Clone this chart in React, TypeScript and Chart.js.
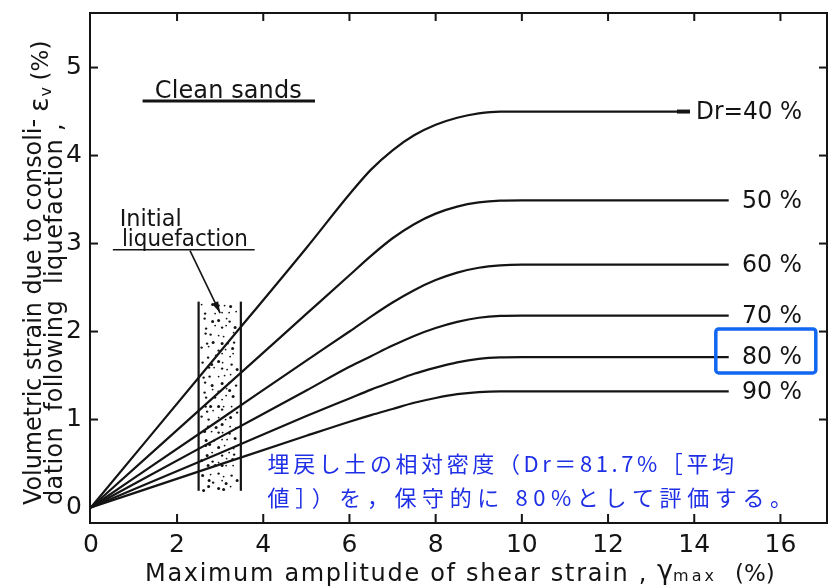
import React, { useEffect, useRef } from 'react';
import { Chart, registerables } from 'chart.js';

Chart.register(...registerables);

// ---- data ----
const strain40 = [0, 3, 5, 6, 6.5, 7, 7.5, 8, 8.5, 9, 9.5, 10, 12, 13.9];
const strainOther = [0, 3, 5, 6, 6.5, 7, 7.5, 8, 8.5, 9, 9.5, 10, 12, 14.8];
const ev40 = [0, 1.77, 2.95, 3.56, 3.84, 4.06, 4.23, 4.35, 4.43, 4.48, 4.5, 4.5, 4.5, 4.5];
const ev50 = [0, 1.32, 2.2, 2.64, 2.86, 3.06, 3.22, 3.34, 3.42, 3.467, 3.487, 3.49, 3.49, 3.49];
const ev60 = [0, 1.0, 1.67, 2.0, 2.17, 2.33, 2.47, 2.585, 2.67, 2.725, 2.752, 2.76, 2.76, 2.76];
const ev70 = [0, 0.8, 1.33, 1.6, 1.72, 1.84, 1.95, 2.04, 2.11, 2.157, 2.177, 2.18, 2.18, 2.18];
const ev80 = [0, 0.62, 1.04, 1.24, 1.34, 1.43, 1.52, 1.59, 1.65, 1.69, 1.707, 1.71, 1.71, 1.71];
const ev90 = [0, 0.49, 0.815, 0.975, 1.05, 1.12, 1.19, 1.245, 1.288, 1.312, 1.32, 1.32, 1.32, 1.32];
const densityLabels = ['Dr=40 %', '50 %', '60 %', '70 %', '80 %', '90 %'];
const xTicks = [0, 2, 4, 6, 8, 10, 12, 14, 16];
const yTicks = [0, 1, 2, 3, 4, 5];
const xTitle = 'Maximum amplitude of shear strain ,';
const yTitle1 = 'Volumetric strain due to consoli-';
const yTitle2 = 'dation  following  liquefaction ,';
const noteLine1 = '埋戻し土の相対密度（Dr＝81.7%［平均';
const noteLine2 = '値］）を，保守的に 80%として評価する。';

const seriesX = [strain40, strainOther, strainOther, strainOther, strainOther, strainOther];
const seriesY = [ev40, ev50, ev60, ev70, ev80, ev90];

const FONT = '"DejaVu Sans"';
const INK = '#141414';

function fitText(ctx: CanvasRenderingContext2D, text: string, x: number, y: number, width: number) {
  (ctx as any).letterSpacing = '0px';
  const w0 = ctx.measureText(text).width;
  const n = Array.from(text).length;
  if (w0 < width && n > 1) {
    (ctx as any).letterSpacing = ((width - w0) / n).toFixed(2) + 'px';
    ctx.fillText(text, x, y);
  } else {
    ctx.fillText(text, x, y, width);
  }
  (ctx as any).letterSpacing = '0px';
}

const annotations = {
  id: 'annotations',
  afterDatasetsDraw(chart: any) {
    const { ctx, chartArea: a, scales } = chart;
    const xs = scales.x;
    const ys = scales.y;
    const X = (v: number) => xs.getPixelForValue(v);
    const Y = (v: number) => ys.getPixelForValue(v);
    const line = (x1: number, y1: number, x2: number, y2: number, w = 2) => {
      ctx.lineWidth = w;
      ctx.beginPath();
      ctx.moveTo(x1, y1);
      ctx.lineTo(x2, y2);
      ctx.stroke();
    };
    ctx.save();
    ctx.strokeStyle = INK;
    ctx.fillStyle = INK;
    ctx.lineCap = 'butt';

    // frame
    ctx.lineWidth = 2;
    ctx.strokeRect(a.left, a.top, a.right - a.left, a.bottom - a.top);
    // inward ticks
    xTicks.forEach((v) => {
      if (v === 0) return;
      const px = X(v);
      line(px, a.bottom, px, a.bottom - 9, 2);
      line(px, a.top, px, a.top + 8, 2);
    });
    yTicks.forEach((v) => {
      if (v === 0) return;
      const py = Y(v);
      line(a.left, py, a.left + 8, py, 2);
      line(a.right, py, a.right - 8, py, 2);
    });

    // thick end of the 40 % curve
    const last40 = strain40.length - 1;
    line(X(strain40[last40] - 0.3), Y(ev40[last40]), X(strain40[last40]), Y(ev40[last40]), 4);

    // density labels, right aligned
    ctx.font = `24px ${FONT}`;
    ctx.textAlign = 'right';
    ctx.textBaseline = 'middle';
    densityLabels.forEach((lab, i) => {
      const yv = seriesY[i][seriesY[i].length - 1];
      ctx.fillText(lab, X(16.5), Y(yv) + 1, i === 0 ? 106 : 60);
    });

    // Clean sands
    ctx.textAlign = 'left';
    ctx.textBaseline = 'alphabetic';
    ctx.font = `24px ${FONT}`;
    fitText(ctx, 'Clean sands', X(1.485), Y(4.65), 147);
    line(X(1.2), Y(4.62), X(5.2), Y(4.62), 3);

    // Initial liquefaction
    ctx.font = `23px ${FONT}`;
    fitText(ctx, 'Initial', X(0.67), Y(3.2), 62);
    fitText(ctx, 'liquefaction', X(0.72), Y(2.975), 126);
    line(X(0.51), Y(2.93), X(3.8), Y(2.93), 1.6);
    // arrow
    const ax1 = X(2.3), ay1 = Y(2.92), ax2 = X(3.0), ay2 = Y(2.21);
    line(ax1, ay1, ax2, ay2, 1.6);
    const ang = Math.atan2(ay2 - ay1, ax2 - ax1);
    ctx.beginPath();
    ctx.moveTo(ax2, ay2);
    ctx.lineTo(ax2 - 12 * Math.cos(ang - 0.28), ay2 - 12 * Math.sin(ang - 0.28));
    ctx.lineTo(ax2 - 12 * Math.cos(ang + 0.28), ay2 - 12 * Math.sin(ang + 0.28));
    ctx.closePath();
    ctx.fill();

    // stippled band
    const bx1 = X(2.5), bx2 = X(3.48), by1 = Y(2.34), by2 = Y(0.19);
    line(bx1, by1, bx1, by2, 2.2);
    line(bx2, by1, bx2, by2, 2.2);
    let r = 0;
    for (let py = by1 + 5; py < by2 - 2; py += 7) {
      let c = 0;
      const off = r % 2 === 0 ? 0 : 3.5;
      for (let px = bx1 + 5 + off; px < bx2 - 3; px += 7) {
        const h = ((r * 7919 + c * 104729 + r * c * 31) % 997 + 997) % 997;
        const dx = (h % 5) - 2;
        const dy = ((h >> 3) % 5) - 2;
        const rad = 0.9 + (h % 3) * 0.3;
        ctx.beginPath();
        ctx.arc(px + dx, py + dy, rad, 0, Math.PI * 2);
        ctx.fill();
        c++;
      }
      r++;
    }

    // blue highlight box around 80 %
    ctx.strokeStyle = '#1166f2';
    ctx.lineWidth = 3.5;
    const rx1 = X(14.5), rx2 = X(16.82), ry1 = Y(2.03), ry2 = Y(1.53);
    ctx.beginPath();
    (ctx as any).roundRect(rx1, ry1, rx2 - rx1, ry2 - ry1, 3);
    ctx.stroke();

    // blue Japanese note
    ctx.fillStyle = '#1f2fe6';
    ctx.font = '22px "Noto Sans CJK JP"';
    ctx.textBaseline = 'middle';
    fitText(ctx, noteLine1, X(4.1), Y(0.5), 470);
    fitText(ctx, noteLine2, X(4.1), Y(0.115), 530);

    ctx.restore();

    // axis titles (outside the plot)
    ctx.save();
    ctx.fillStyle = INK;
    ctx.textAlign = 'left';
    ctx.textBaseline = 'alphabetic';
    ctx.font = `24px ${FONT}`;
    fitText(ctx, xTitle, 145, 581, 503);
    ctx.font = `27px ${FONT}`;
    ctx.fillText('γ', 657, 579);
    ctx.font = `16px ${FONT}`;
    fitText(ctx, 'max', 673, 581, 44);
    ctx.font = `23px ${FONT}`;
    ctx.fillText('(%)', 735, 581, 55);

    // y title, rotated
    ctx.save();
    ctx.translate(41, 505);
    ctx.rotate(-Math.PI / 2);
    ctx.font = `24px ${FONT}`;
    fitText(ctx, yTitle1, 0, 0, 386);
    ctx.restore();
    ctx.save();
    ctx.translate(62, 505);
    ctx.rotate(-Math.PI / 2);
    ctx.font = `24px ${FONT}`;
    fitText(ctx, yTitle2, 0, 0, 382);
    ctx.restore();
    ctx.save();
    ctx.translate(48, 112);
    ctx.rotate(-Math.PI / 2);
    ctx.font = `27px ${FONT}`;
    ctx.fillText('ε', 0, 0);
    const we = ctx.measureText('ε').width;
    ctx.font = `16px ${FONT}`;
    ctx.fillText('v', we + 1, 3);
    ctx.font = `23px ${FONT}`;
    ctx.fillText('(%)', we + 17, 0, 44);
    ctx.restore();
    ctx.restore();
  },
};

export default function App() {
  const ref = useRef<HTMLCanvasElement>(null);
  useEffect(() => {
    const canvas = ref.current;
    if (!canvas) return;
    const chart = new Chart(canvas, {
      type: 'line',
      data: {
        datasets: seriesY.map((ys, i) => ({
          label: densityLabels[i],
          data: ys.map((v, j) => ({ x: seriesX[i][j], y: v })),
          borderColor: INK,
          borderWidth: 2.2,
          pointRadius: 0,
          fill: false,
          cubicInterpolationMode: 'monotone' as const,
        })),
      },
      options: {
        responsive: false,
        animation: false,
        devicePixelRatio: 1,
        layout: { padding: { top: 13, right: 2, left: 0, bottom: 0 } },
        plugins: { legend: { display: false }, tooltip: { enabled: false } },
        scales: {
          x: {
            type: 'linear',
            min: -0.02,
            max: 17.08,
            grid: { display: false, drawTicks: false },
            border: { display: false },
            afterBuildTicks: (s: any) => {
              s.ticks = xTicks.map((v) => ({ value: v }));
            },
            afterFit: (s: any) => {
              s.height = 64;
              s.paddingLeft = 0;
              s.paddingRight = 0;
            },
            ticks: {
              font: { family: 'DejaVu Sans', size: 25 },
              color: INK,
              padding: 7,
              maxRotation: 0,
              autoSkip: false,
            },
          },
          y: {
            type: 'linear',
            min: -0.176,
            max: 5.62,
            grid: { display: false, drawTicks: false },
            border: { display: false },
            afterBuildTicks: (s: any) => {
              s.ticks = yTicks.map((v) => ({ value: v }));
            },
            afterFit: (s: any) => {
              s.width = 90;
              s.paddingTop = 0;
              s.paddingBottom = 0;
            },
            ticks: {
              font: { family: 'DejaVu Sans', size: 25 },
              color: INK,
              padding: 8,
            },
          },
        },
      },
      plugins: [annotations],
    } as any);
    return () => chart.destroy();
  }, []);
  return (
    <div style={{ position: 'fixed', left: 0, top: 0, width: 829, height: 587, background: '#fff' }}>
      <canvas ref={ref} width={829} height={587} style={{ display: 'block', width: 829, height: 587 }} />
    </div>
  );
}
